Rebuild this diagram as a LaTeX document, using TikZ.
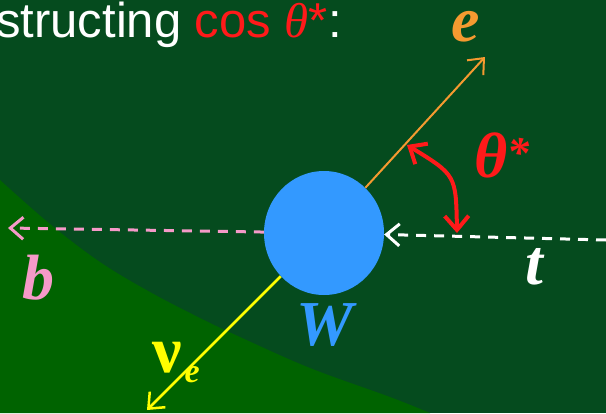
\documentclass[tikz,border=0pt]{standalone}
\usepackage{fontspec}
\setmainfont{Liberation Serif}
\newfontfamily\lsans{Liberation Sans}
\usetikzlibrary{arrows.meta,shapes.geometric}
\definecolor{bgdark}{HTML}{054B1E}
\definecolor{bglight}{HTML}{006300}
\definecolor{wblue}{HTML}{3399FF}
\definecolor{eorange}{HTML}{F59A30}
\definecolor{bpink}{HTML}{F59AC8}
\definecolor{tred}{HTML}{FF1A1A}
\definecolor{nyellow}{HTML}{FFFF00}
\begin{document}
\begin{tikzpicture}[x=1pt,y=-1pt,
  lbl/.style={inner sep=0pt, font=\fontsize{64}{64}\selectfont\bfseries\itshape},
  tipend/.style={-{Straight Barb[length=13pt,width=22pt]}},
  dsh/.style={dash pattern=on 10pt off 8pt, line width=3pt}]
\useasboundingbox (0,0) rectangle (606,413);
\fill[bgdark] (0,0) rectangle (606,413);
\fill[bglight] plot[smooth, tension=0.6] coordinates {(0,180) (50,224) (100,262) (150,292) (200,318) (240,337) (310,368) (390,397) (430,413)} -- (0,413) -- cycle;
% title
\node[anchor=base west, inner sep=0pt, text=white, font=\lsans\fontsize{49}{49}\selectfont] (title) at (-4,37)
  {structing \textcolor{tred}{cos {\rmfamily\itshape θ}*}:};
% W boson
\node[ellipse, minimum width=120pt, minimum height=124pt, fill=wblue, inner sep=0pt] (W) at (324,233) {};
\coordinate (etip) at (485,57);
\coordinate (btip) at (8,228);
\coordinate (tstart) at (606,240);
\coordinate (ntip) at (147,410);
\coordinate (a1) at (407,145);
\coordinate (a2) at (457,233);
\draw[eorange, line width=2pt, tipend] (W) -- (etip);
\draw[bpink, dsh, tipend] (W) -- (btip);
\draw[white, dsh, tipend] (tstart) -- (W);
\draw[nyellow, line width=2.5pt, tipend] (W) -- (ntip);
\draw[tred, line width=4pt, {Straight Barb[length=14pt,width=24pt]}-{Straight Barb[length=14pt,width=24pt]}] (a1) .. controls (456,175) .. (a2);
% labels
\node[lbl, text=eorange] (le) at (466,27) {e};
\node[lbl, text=tred] (lth) at (502,155) {θ\raisebox{10pt}{\fontsize{44}{44}\selectfont *}};
\node[lbl, text=bpink] (lb) at (38,278) {b};
\node[lbl, text=white] (lt) at (534,267) {t};
\node[lbl, text=wblue] (lW) at (325,325) {W};
\node[anchor=base west, inner sep=0pt, text=nyellow] (lnu) at (152,372)
  {{\fontsize{66}{66}\selectfont\bfseries ν}\hspace{3pt}\raisebox{-10pt}{\fontsize{34}{34}\selectfont\bfseries\itshape e}};
\end{tikzpicture}
\end{document}
